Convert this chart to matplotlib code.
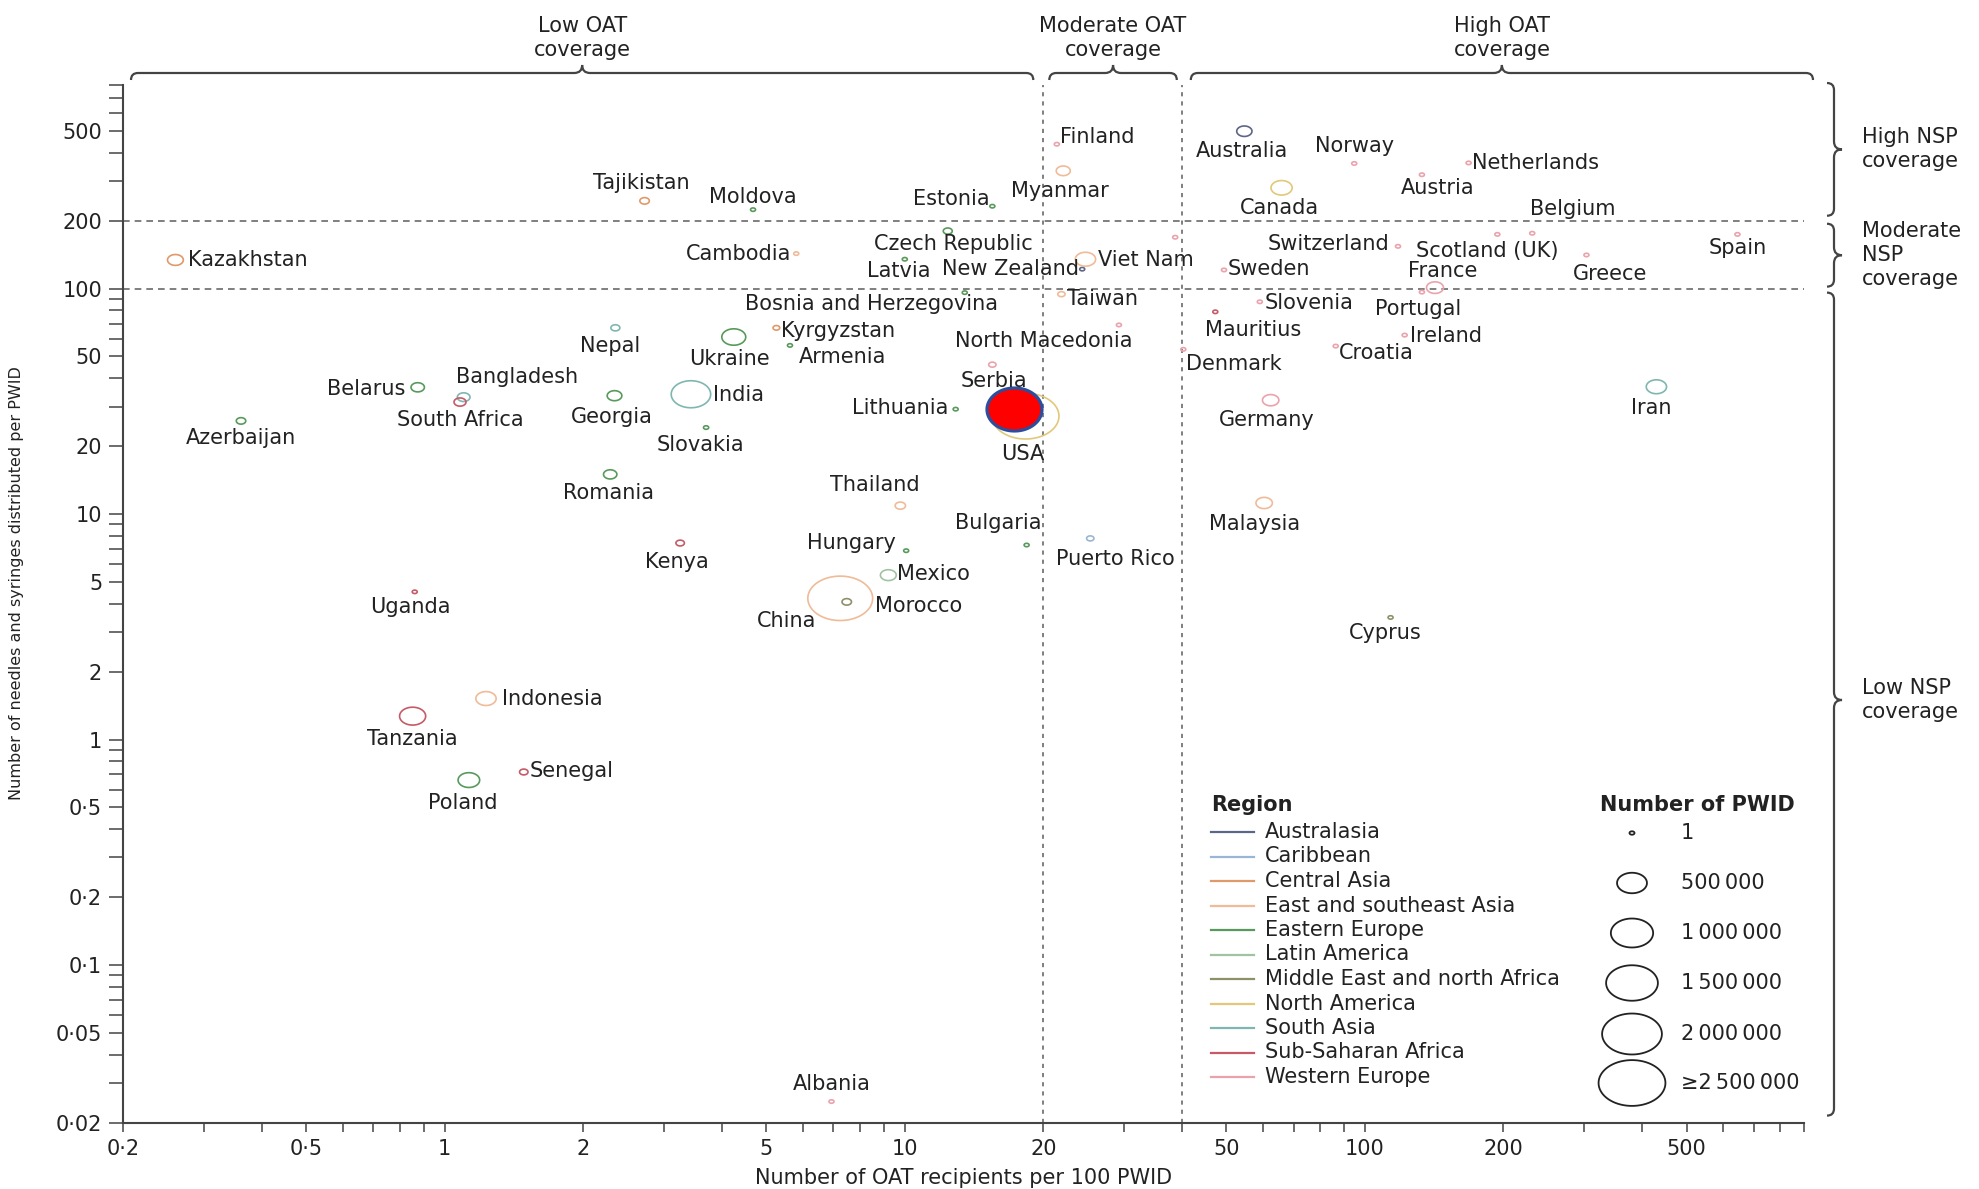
import numpy as np
import matplotlib
matplotlib.use("Agg")
import matplotlib.pyplot as plt
from matplotlib.path import Path
from matplotlib.patches import PathPatch
from matplotlib.markers import MarkerStyle
from matplotlib.lines import Line2D
from matplotlib.ticker import FixedLocator, FuncFormatter, NullFormatter

plt.rcParams["font.family"] = ["DejaVu Sans"]

# ---------------------------------------------------------------- data
countries = [
    "Kazakhstan", "Tajikistan", "Moldova", "Estonia", "Czech Republic", "Cambodia",
    "Latvia", "New Zealand", "Bosnia and Herzegovina", "Kyrgyzstan", "Nepal", "Ukraine",
    "Armenia", "North Macedonia", "Serbia", "Belarus", "Bangladesh", "South Africa",
    "Georgia", "India", "Lithuania", "Azerbaijan", "Slovakia", "USA", "Romania",
    "Thailand", "Kenya", "Hungary", "Mexico", "China", "Morocco", "Uganda", "Bulgaria",
    "Puerto Rico", "Indonesia", "Tanzania", "Senegal", "Poland", "Albania", "Finland",
    "Myanmar", "Australia", "Norway", "Netherlands", "Austria", "Canada", "Switzerland",
    "Scotland (UK)", "Belgium", "Greece", "Spain", "France", "Portugal", "Sweden",
    "Viet Nam", "Taiwan", "Slovenia", "Mauritius", "Ireland", "Croatia", "Denmark",
    "Germany", "Iran", "Malaysia", "Cyprus", "",
]
region = [
    "Central Asia", "Central Asia", "Eastern Europe", "Eastern Europe", "Eastern Europe",
    "East and southeast Asia", "Eastern Europe", "Australasia", "Eastern Europe",
    "Central Asia", "South Asia", "Eastern Europe", "Eastern Europe", "Western Europe",
    "Western Europe", "Eastern Europe", "South Asia", "Sub-Saharan Africa",
    "Eastern Europe", "South Asia", "Eastern Europe", "Eastern Europe", "Eastern Europe",
    "North America", "Eastern Europe", "East and southeast Asia", "Sub-Saharan Africa",
    "Eastern Europe", "Latin America", "East and southeast Asia",
    "Middle East and north Africa", "Sub-Saharan Africa", "Eastern Europe", "Caribbean",
    "East and southeast Asia", "Sub-Saharan Africa", "Sub-Saharan Africa",
    "Eastern Europe", "Western Europe", "Western Europe", "East and southeast Asia",
    "Australasia", "Western Europe", "Western Europe", "Western Europe", "North America",
    "Western Europe", "Western Europe", "Western Europe", "Western Europe",
    "Western Europe", "Western Europe", "Western Europe", "Western Europe",
    "East and southeast Asia", "East and southeast Asia", "Western Europe",
    "Sub-Saharan Africa", "Western Europe", "Western Europe", "Western Europe",
    "Western Europe", "South Asia", "East and southeast Asia",
    "Middle East and north Africa", "Western Europe",
]
oat_per_100 = [
    0.26, 2.72, 4.68, 15.5, 12.4, 5.81, 10.0, 24.3, 13.5, 5.26, 2.35, 4.25,
    5.63, 29.2, 15.5, 0.874, 1.10, 1.08, 2.34, 3.43, 12.9, 0.361, 3.70, 18.3, 2.29,
    9.78, 3.25, 10.07, 9.21, 7.24, 7.48, 0.861, 18.4, 25.3, 1.23, 0.852, 1.486,
    1.129, 6.93, 21.4, 22.1, 54.7, 94.8, 168, 133, 65.9, 118, 194, 231, 303, 645,
    142, 133, 49.4, 24.7, 21.9, 59.1, 47.3, 122, 86.4, 40.3, 62.4, 430, 60.4,
    113.7, 38.7,
]
nsp_per_pwid = [
    134, 245, 224, 232, 180, 143, 135, 122, 96, 67, 67, 61,
    56, 69, 46, 36.5, 33, 31.4, 33.5, 34, 29.2, 25.9, 24.2, 27.2, 15.0,
    10.9, 7.44, 6.88, 5.36, 4.23, 4.08, 4.52, 7.29, 7.8, 1.52, 1.27, 0.718,
    0.661, 0.0248, 437, 333, 499, 359, 361, 320, 280, 154, 174, 176, 141, 174,
    101, 96.5, 121, 135, 94.5, 87.4, 78.9, 62.2, 55.6, 53.8, 32.0, 36.7, 11.2,
    3.48, 169,
]
pwid = [
    140000, 50000, 10000, 10000, 45000, 8000, 8000, 10000, 8000, 25000, 45000, 320000,
    8000, 8000, 30000, 100000, 90000, 80000, 120000, 870000, 8000, 50000, 15000,
    2600000, 100000, 60000, 40000, 8000, 140000, 2350000, 50000, 8000, 10000, 30000,
    230000, 380000, 40000, 260000, 8000, 8000, 110000, 130000, 8000, 8000, 8000,
    250000, 8000, 8000, 8000, 8000, 8000, 160000, 8000, 8000, 230000, 30000, 8000,
    8000, 8000, 8000, 8000, 150000, 230000, 150000, 8000, 8000,
]

region_names = [
    "Australasia", "Caribbean", "Central Asia", "East and southeast Asia",
    "Eastern Europe", "Latin America", "Middle East and north Africa",
    "North America", "South Asia", "Sub-Saharan Africa", "Western Europe",
]
region_colors = [
    "#5d6688", "#9ab6d3", "#e0996a", "#efbb98", "#589a5b", "#a2c3a2",
    "#8e9068", "#e2c87a", "#80b6b1", "#c65a66", "#eaa3ac",
]

size_legend_values = [1, 500000, 1000000, 1500000, 2000000, 2500000]
size_legend_labels = ["1", "500\u2009000", "1\u2009000\u2009000", "1\u2009500\u2009000",
                      "2\u2009000\u2009000", "\u22652\u2009500\u2009000"]

x_ticks_labelled = [0.2, 0.5, 1, 2, 5, 10, 20, 50, 100, 200, 500]
x_ticks_minor = [0.3, 0.4, 0.6, 0.7, 0.8, 0.9, 3, 4, 6, 7, 8, 9, 30, 40, 60, 70,
                 80, 90, 300, 400, 600, 700, 800, 900]
y_ticks_labelled = [0.02, 0.05, 0.1, 0.2, 0.5, 1, 2, 5, 10, 20, 50, 100, 200, 500]
y_ticks_minor = [0.03, 0.04, 0.06, 0.07, 0.08, 0.09, 0.3, 0.4, 0.6, 0.7, 0.8, 0.9,
                 3, 4, 6, 7, 8, 9, 30, 40, 60, 70, 80, 90, 300, 400, 600, 700, 800]

oat_thresholds = [20, 40]
nsp_thresholds = [100, 200]

# highlighted country marker
highlight_oat, highlight_nsp = 17.3, 29.1

# ------------------------------------------------------- label layout
# (dx, dy, ha) in pixels from the marker centre; dy positive = downwards
label_pos = {
    "Kazakhstan": (13, 0, "left"), "Tajikistan": (-3, -18, "center"),
    "Moldova": (0, -13, "center"), "Estonia": (-3, -7, "right"),
    "Czech Republic": (6, 13, "center"), "Cambodia": (-5, 0, "right"),
    "Latvia": (-6, 12, "center"), "New Zealand": (-3, 0, "right"),
    "Bosnia and Herzegovina": (33, 11, "right"), "Kyrgyzstan": (5, 3, "left"),
    "Nepal": (-5, 18, "center"), "Ukraine": (-4, 22, "center"),
    "Armenia": (9, 12, "left"), "North Macedonia": (14, 16, "right"),
    "Serbia": (2, 16, "center"), "Belarus": (-12, 2, "right"),
    "Bangladesh": (-8, -20, "left"), "South Africa": (0, 18, "center"),
    "Georgia": (-3, 21, "center"), "India": (22, 1, "left"),
    "Lithuania": (-7, -1, "right"), "Azerbaijan": (0, 17, "center"),
    "Slovakia": (-6, 17, "center"), "USA": (-3, 38, "center"),
    "Romania": (-2, 19, "center"), "Thailand": (19, -21, "right"),
    "Kenya": (-3, 19, "center"), "Hungary": (-10, -8, "right"),
    "Mexico": (9, -1, "left"), "China": (-54, 23, "center"),
    "Morocco": (28, 4, "left"), "Uganda": (-4, 15, "center"),
    "Bulgaria": (15, -22, "right"), "Puerto Rico": (25, 21, "center"),
    "Indonesia": (16, 0, "left"), "Tanzania": (0, 23, "center"),
    "Senegal": (6, -1, "left"), "Poland": (-6, 23, "center"),
    "Albania": (0, -18, "center"), "Finland": (3, -7, "left"),
    "Myanmar": (-3, 20, "center"), "Australia": (-2, 20, "center"),
    "Norway": (0, -17, "center"), "Netherlands": (3, 0, "left"),
    "Austria": (16, 13, "center"), "Canada": (-2, 20, "center"),
    "Switzerland": (-9, -2, "right"), "Scotland (UK)": (-10, 17, "center"),
    "Belgium": (41, -24, "center"), "Greece": (24, 19, "center"),
    "Spain": (0, 14, "center"), "France": (8, -17, "center"),
    "Portugal": (-4, 17, "center"), "Sweden": (4, -1, "left"),
    "Viet Nam": (13, 1, "left"), "Taiwan": (6, 5, "left"),
    "Slovenia": (5, 1, "left"), "Mauritius": (-10, 18, "left"),
    "Ireland": (5, 1, "left"), "Croatia": (3, 7, "left"),
    "Denmark": (3, 15, "left"), "Germany": (-4, 20, "center"),
    "Iran": (-5, 21, "center"), "Malaysia": (-10, 21, "center"),
    "Cyprus": (-5, 16, "center"),
}

TEXT = "#222222"
AXC = "#444444"
FS = 15
W, H = 1979, 1189
DPI = 100
ASPECT = 1.46


def ellipse_marker(ratio):
    t = np.linspace(0, 2 * np.pi, 73)
    verts = np.column_stack([np.cos(t), np.sin(t) / ratio])
    return MarkerStyle(Path(verts, closed=True))


def marker_area(n):
    width_px = max(5, 42.3 * np.sqrt(min(n, 2.5e6) / 1e6))
    return (width_px * 72 / DPI) ** 2


fig = plt.figure(figsize=(W / DPI, H / DPI), dpi=DPI)
fig.patch.set_facecolor("white")
ax = fig.add_axes([123 / W, 1 - 1122.6 / H, (1804 - 123) / W, (1122.6 - 85) / H])
ax.set_xscale("log")
ax.set_yscale("log")
ax.set_xlim(0.2, 900)
ax.set_ylim(0.02, 800)

for s in ("top", "right"):
    ax.spines[s].set_visible(False)
for s in ("left", "bottom"):
    ax.spines[s].set_color(AXC)
    ax.spines[s].set_linewidth(1.5)


def fmt(v, _pos=None):
    return ("%g" % v).replace(".", "\u00b7")


ax.xaxis.set_major_locator(FixedLocator(x_ticks_labelled))
ax.xaxis.set_minor_locator(FixedLocator(x_ticks_minor))
ax.yaxis.set_major_locator(FixedLocator(y_ticks_labelled))
ax.yaxis.set_minor_locator(FixedLocator(y_ticks_minor))
ax.xaxis.set_major_formatter(FuncFormatter(fmt))
ax.yaxis.set_major_formatter(FuncFormatter(fmt))
ax.xaxis.set_minor_formatter(NullFormatter())
ax.yaxis.set_minor_formatter(NullFormatter())
ax.tick_params(axis="x", which="both", direction="out", length=6.5, width=1.1,
               color=AXC, labelsize=FS, labelcolor=TEXT, pad=5)
ax.tick_params(axis="y", which="both", direction="out", length=10, width=1.1,
               color=AXC, labelsize=FS, labelcolor=TEXT, pad=5)

# coverage thresholds
for yv in nsp_thresholds:
    ax.axhline(yv, color="#6a6a6a", lw=1.2, ls=(0, (4, 3)), zorder=1)
for xv in oat_thresholds:
    ax.axvline(xv, color="#6a6a6a", lw=1.2, ls=(0, (2.5, 3)), zorder=1)

# bubbles
color_of = dict(zip(region_names, region_colors))
sizes = [marker_area(n) for n in pwid]
edge = [color_of[r] for r in region]
ax.scatter(oat_per_100, nsp_per_pwid, s=sizes, marker=ellipse_marker(ASPECT),
           facecolors="none", edgecolors=edge, linewidths=1.2, zorder=3)

# highlight over the USA bubble
ax.scatter([highlight_oat], [highlight_nsp], s=(55 * 72 / DPI) ** 2,
           marker=ellipse_marker(1.28), facecolors="#ff0000", edgecolors="#2c4e9c",
           linewidths=2.3, zorder=5)

# country labels
for name, x, y in zip(countries, oat_per_100, nsp_per_pwid):
    if not name:
        continue
    dx, dy, ha = label_pos[name]
    ax.annotate(name, (x, y), xytext=(dx, -dy), textcoords="offset pixels",
                ha=ha, va="center", fontsize=FS, color=TEXT, zorder=6)

ax.set_xlabel("Number of OAT recipients per 100 PWID", fontsize=15, color=TEXT)
ax.xaxis.set_label_coords(0.5, -0.044)
ax.set_ylabel("Number of needles and syringes distributed per PWID", fontsize=11.5,
              color=TEXT)
ax.yaxis.set_label_coords(-0.059, 0.52)


# --------------------------------------------------------------- braces
def px(xp, yp):
    """pixel position (origin top-left) -> figure fraction"""
    return (xp / W, 1 - yp / H)


def data_px_x(v):
    return ax.transData.transform((v, 1))[0] * W / fig.bbox.width


def data_px_y(v):
    return H - ax.transData.transform((1, v))[1] * H / fig.bbox.height


def brace_h(x0, x1, yb, r=7, h=8):
    xm = (x0 + x1) / 2
    pts = [(x0, yb + r), (x0, yb), (x0 + r, yb), (xm - h, yb), (xm, yb),
           (xm, yb - h), (xm, yb), (xm + h, yb), (x1 - r, yb), (x1, yb), (x1, yb + r)]
    codes = [Path.MOVETO, Path.CURVE3, Path.CURVE3, Path.LINETO, Path.CURVE3,
             Path.CURVE3, Path.CURVE3, Path.CURVE3, Path.LINETO, Path.CURVE3, Path.CURVE3]
    verts = [px(*p) for p in pts]
    fig.patches.append(PathPatch(Path(verts, codes), transform=fig.transFigure,
                                 fill=False, edgecolor=AXC, lw=1.6))
    return xm


def brace_v(y0, y1, xb, r=7, h=8, ym=None):
    ym = (y0 + y1) / 2 if ym is None else ym
    pts = [(xb - r, y0), (xb, y0), (xb, y0 + r), (xb, ym - h), (xb, ym),
           (xb + h, ym), (xb, ym), (xb, ym + h), (xb, y1 - r), (xb, y1), (xb - r, y1)]
    codes = [Path.MOVETO, Path.CURVE3, Path.CURVE3, Path.LINETO, Path.CURVE3,
             Path.CURVE3, Path.CURVE3, Path.CURVE3, Path.LINETO, Path.CURVE3, Path.CURVE3]
    verts = [px(*p) for p in pts]
    fig.patches.append(PathPatch(Path(verts, codes), transform=fig.transFigure,
                                 fill=False, edgecolor=AXC, lw=1.6))
    return ym


top_groups = [
    (0.2, oat_thresholds[0], 8, -10, "Low OAT\ncoverage"),
    (oat_thresholds[0], oat_thresholds[1], 6, -5, "Moderate OAT\ncoverage"),
    (oat_thresholds[1], 900, 9, 9, "High OAT\ncoverage"),
]
for lo, hi, g0, g1, txt in top_groups:
    xm = brace_h(data_px_x(lo) + g0, data_px_x(hi) + g1, 73)
    fig.text(*px(xm, 38), txt, ha="center", va="center", fontsize=FS, color=TEXT,
             linespacing=1.2)

right_groups = [
    (800, nsp_thresholds[1], -2, -5, "High NSP\ncoverage", None),
    (nsp_thresholds[1], nsp_thresholds[0], 3, -2, "Moderate\nNSP\ncoverage", None),
    (nsp_thresholds[0], 0.02, 4, -7, "Low NSP\ncoverage", 700),
]
for hi, lo, g0, g1, txt, ym in right_groups:
    ym = brace_v(data_px_y(hi) + g0, data_px_y(lo) + g1, 1834, ym=ym)
    fig.text(*px(1862, ym), txt, ha="left", va="center", fontsize=FS, color=TEXT,
             linespacing=1.25)

# --------------------------------------------------------------- legends
fig.text(*px(1211, 805), "Region", ha="left", va="center", fontsize=FS,
         fontweight="bold", color=TEXT)
for i, (name, col) in enumerate(zip(region_names, region_colors)):
    yy = 832 + i * 24.5
    fig.lines.append(Line2D([1211 / W, 1254 / W], [1 - yy / H] * 2,
                            transform=fig.transFigure, color=col, lw=1.6))
    fig.text(*px(1265, yy), name, ha="left", va="center", fontsize=FS, color=TEXT)

fig.text(*px(1697, 805), "Number of PWID", ha="center", va="center", fontsize=FS,
         fontweight="bold", color=TEXT)
size_rows = [833, 883, 933, 983, 1034, 1083]
leg_ax = fig.add_axes([0, 0, 1, 1], facecolor="none")
leg_ax.set_xlim(0, W)
leg_ax.set_ylim(H, 0)
leg_ax.axis("off")
leg_ax.scatter([1632] * len(size_legend_values), size_rows,
               s=[marker_area(v) for v in size_legend_values],
               marker=ellipse_marker(ASPECT), facecolors="none",
               edgecolors="#222222", linewidths=1.3)
for yy, lab in zip(size_rows, size_legend_labels):
    leg_ax.text(1681, yy, lab, ha="left", va="center", fontsize=FS, color=TEXT)

fig.savefig("out.png", dpi=DPI, facecolor="white")
